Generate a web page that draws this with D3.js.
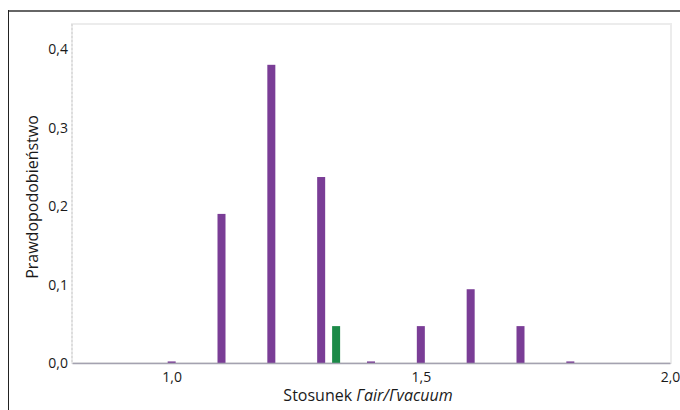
<!DOCTYPE html>
<html><head><meta charset="utf-8">
<script src="https://cdn.jsdelivr.net/npm/d3@7"></script>
<style>html,body{margin:0;padding:0;background:#fff;}svg{display:block;}</style>
</head><body>
<script>
const ratios = [1.0, 1.1, 1.2, 1.3, 1.4, 1.5, 1.6, 1.7, 1.8];
const purpleValues = [0.002, 0.19, 0.38, 0.237, 0.002, 0.047, 0.094, 0.047, 0.002];
const greenRatios = [1.33];
const greenValues = [0.047];
const xTicks = [1.0, 1.5, 2.0];
const yTicks = [0.0, 0.1, 0.2, 0.3, 0.4];

const W = 680, H = 410;
const svg = d3.select("body").append("svg").attr("width", W).attr("height", H);

// outer frame
svg.append("line").attr("x1", 8).attr("x2", 680).attr("y1", 11).attr("y2", 11)
  .attr("stroke", "#666").attr("stroke-width", 2);
svg.append("line").attr("x1", 8.5).attr("x2", 8.5).attr("y1", 10).attr("y2", 410)
  .attr("stroke", "#222").attr("stroke-width", 1);

const x = d3.scaleLinear().domain([0.8, 2.0]).range([72, 670]);
const y = d3.scaleLinear().domain([0, 0.432]).range([363, 24]);

// plot area
svg.append("rect").attr("x", 72).attr("y", 24).attr("width", 599).attr("height", 339)
  .attr("fill", "#fff").attr("stroke", "#ececec").attr("stroke-width", 2);
svg.append("line").attr("x1", 72).attr("x2", 72).attr("y1", 24).attr("y2", 363)
  .attr("stroke", "#d8d8d8").attr("stroke-width", 1.5).attr("stroke-dasharray", "2,2");

const bw = 8;
svg.append("g").selectAll("rect").data(ratios.map((r, i) => ({r, v: purpleValues[i]})))
  .join("rect")
  .attr("x", d => x(d.r) - bw / 2).attr("width", bw)
  .attr("y", d => y(d.v)).attr("height", d => Math.max(1.5, y(0) - y(d.v)))
  .attr("fill", "#7a3d96");

svg.append("g").selectAll("rect").data(greenRatios.map((r, i) => ({r, v: greenValues[i]})))
  .join("rect")
  .attr("x", d => x(d.r) - bw / 2).attr("width", bw)
  .attr("y", d => y(d.v)).attr("height", d => y(0) - y(d.v))
  .attr("fill", "#1c8a48");

const font = "Open Sans, sans-serif";
// x axis
const xAxis = svg.append("g").attr("transform", "translate(0,363)")
  .call(d3.axisBottom(x).tickValues(xTicks).tickSize(0).tickPadding(9)
    .tickFormat(d => d3.format(".1f")(d).replace(".", ",")));
xAxis.select(".domain").attr("stroke", "#a4a2b0").attr("stroke-width", 1.5);
xAxis.selectAll("text").attr("font-family", font).attr("font-size", 14).attr("fill", "#1a1a1a");

// y axis
const yAxis = svg.append("g").attr("transform", "translate(72,0)")
  .call(d3.axisLeft(y).tickValues(yTicks).tickSize(0).tickPadding(4)
    .tickFormat(d => d3.format(".1f")(d).replace(".", ",")));
yAxis.select(".domain").remove();
yAxis.selectAll("text").attr("font-family", font).attr("font-size", 14).attr("fill", "#1a1a1a");

// titles
const xt = svg.append("text").attr("x", 368).attr("y", 401).attr("text-anchor", "middle")
  .attr("font-family", font).attr("font-size", 16).attr("fill", "#1a1a1a");
xt.append("tspan").text("Stosunek ");
xt.append("tspan").attr("font-style", "italic").text("Γair/Γvacuum");

svg.append("text").attr("transform", "translate(38,197) rotate(-90)").attr("text-anchor", "middle")
  .attr("font-family", font).attr("font-size", 16).attr("fill", "#1a1a1a")
  .text("Prawdopodobieństwo");
</script>
</body></html>
